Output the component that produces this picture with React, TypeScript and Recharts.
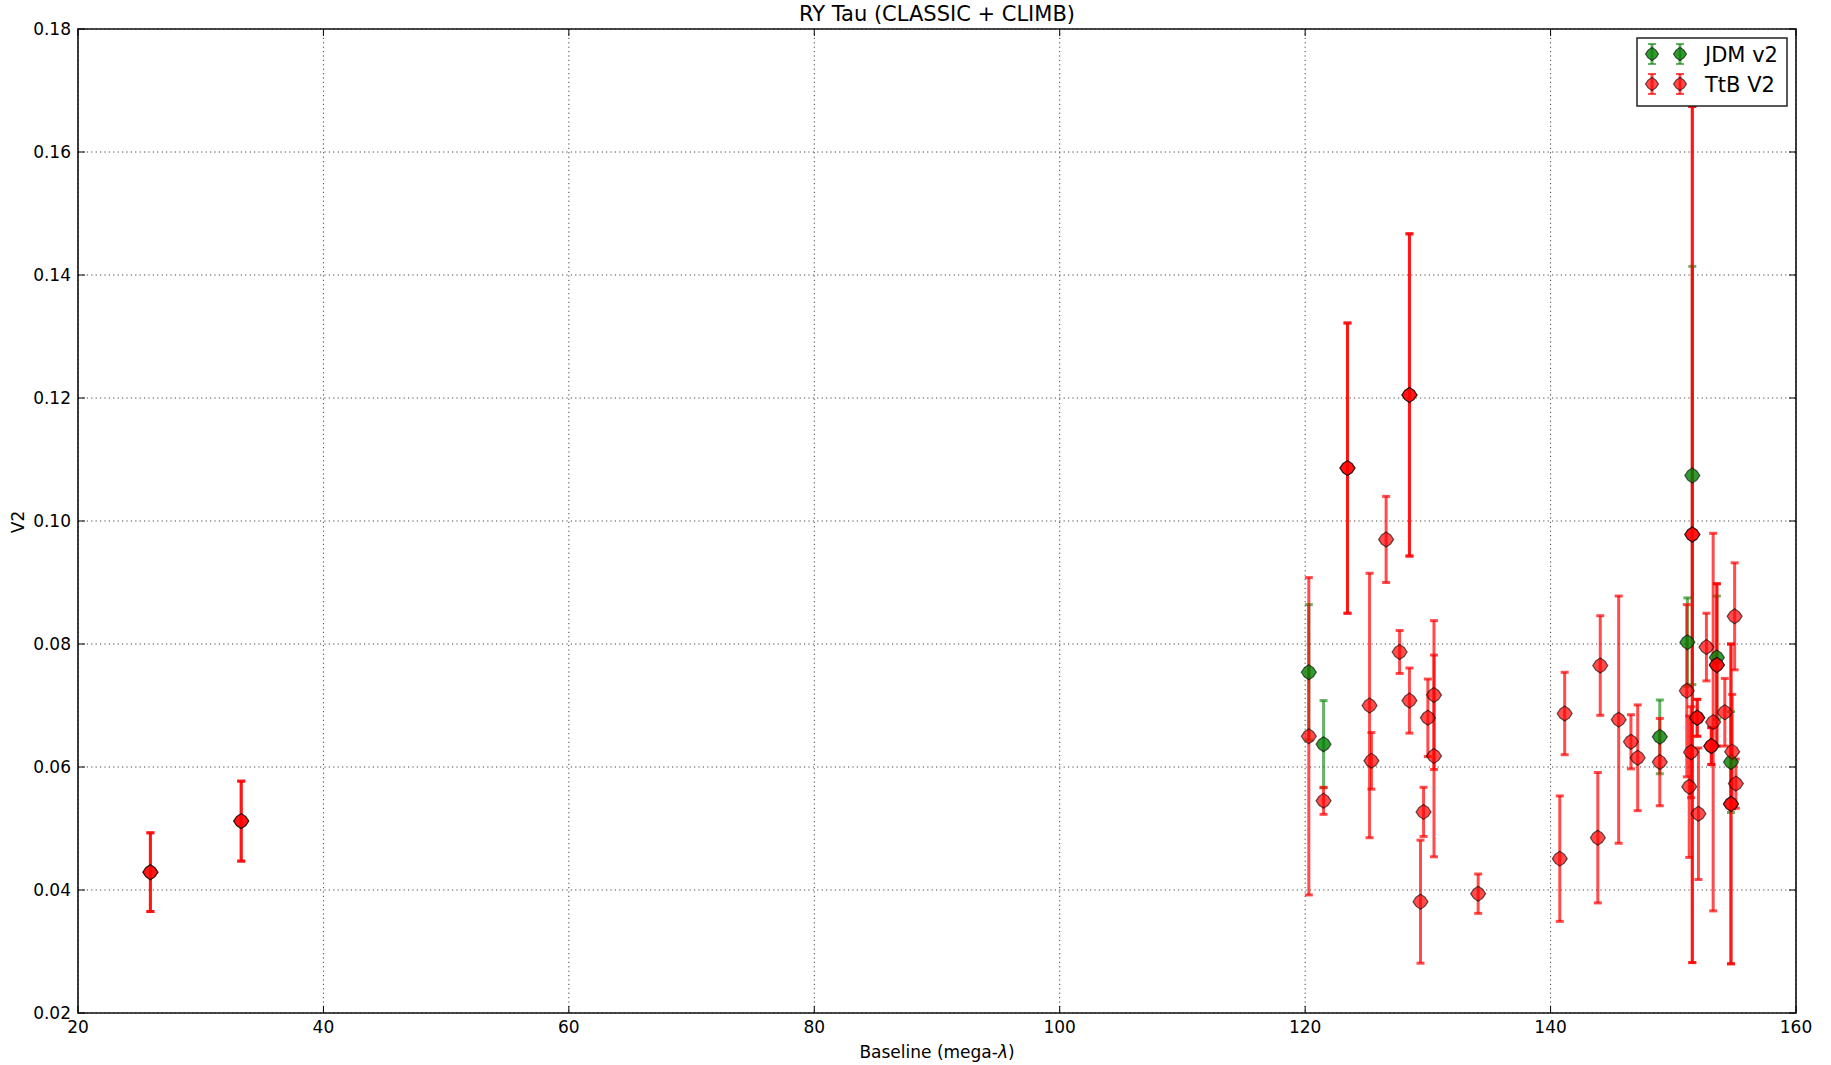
import React from 'react';
import {
  ScatterChart,
  Scatter,
  XAxis,
  YAxis,
  CartesianGrid,
  ErrorBar,
  ReferenceArea,
  Legend,
} from 'recharts';

// axis ticks
const xTicks = [20, 40, 60, 80, 100, 120, 140, 160];
const yTicks = [0.02, 0.04, 0.06, 0.08, 0.1, 0.12, 0.14, 0.16, 0.18];

// JDM v2
const jdmBaseline = [120.3, 121.5, 148.9, 151.15, 151.55, 153.55, 154.7];
const jdmV2 = [0.0754, 0.0637, 0.0649, 0.0803, 0.1074, 0.0778, 0.0608];
const jdmErr = [0.011, 0.0071, 0.006, 0.0072, 0.034, 0.01, 0.0082];

// TtB V2 (points that show up twice in the plot are listed twice)
const ttbBaseline = [
  25.9, 25.9, 33.3, 33.3, 120.3, 121.5, 123.45, 123.45, 125.25, 125.4,
  126.6, 127.7, 128.5, 128.5, 128.5, 129.4, 129.65, 130.0, 130.5, 130.5,
  134.1, 140.75, 141.15, 143.85, 144.05, 145.55, 146.55, 147.1, 148.9, 151.1,
  151.3, 151.45, 151.55, 151.55, 151.95, 151.95, 152.05, 152.7, 153.1, 153.1,
  153.25, 153.55, 153.55, 154.2, 154.7, 154.7, 154.8, 155.0, 155.1,
];
const ttbV2 = [
  0.0429, 0.0429, 0.0512, 0.0512, 0.065, 0.0545, 0.1086, 0.1086, 0.07, 0.061,
  0.097, 0.0787, 0.1205, 0.1205, 0.0708, 0.0381, 0.0527, 0.068, 0.0717, 0.0618,
  0.0394, 0.0451, 0.0687, 0.0485, 0.0765, 0.0677, 0.0641, 0.0615, 0.0608, 0.0724,
  0.0568, 0.0624, 0.0978, 0.0978, 0.068, 0.068, 0.0524, 0.0795, 0.0634, 0.0634,
  0.0673, 0.0766, 0.0766, 0.0689, 0.054, 0.054, 0.0625, 0.0845, 0.0573,
];
const ttbErr = [
  0.0064, 0.0064, 0.0065, 0.0065, 0.0258, 0.0022, 0.0236, 0.0236, 0.0215, 0.0046,
  0.007, 0.0035, 0.0262, 0.0262, 0.0053, 0.01, 0.004, 0.0063, 0.0121, 0.0164,
  0.0032, 0.0102, 0.0067, 0.0106, 0.0081, 0.0201, 0.0044, 0.0086, 0.0071, 0.014,
  0.0115, 0.0074, 0.0696, 0.0696, 0.003, 0.003, 0.0107, 0.0055, 0.003, 0.003,
  0.0307, 0.0132, 0.0132, 0.0055, 0.026, 0.026, 0.0093, 0.0087, 0.004,
];

const jdmData = jdmBaseline.map((x, i) => ({ x, y: jdmV2[i], err: jdmErr[i] }));
const ttbData = ttbBaseline.map((x, i) => ({ x, y: ttbV2[i], err: ttbErr[i] }));

const W = 1831;
const H = 1065;
const PL = 78;
const PR = 1796;
const PT = 29;
const PB = 1013;
const FONT = '"DejaVu Sans", sans-serif';

const GREEN = 'rgba(0,128,0,0.8)';
const GREEN_BAR = 'rgba(0,128,0,0.6)';
const RED = 'rgba(255,0,0,0.7)';
const RED_BAR = 'rgba(255,0,0,0.7)';

// rounded diamond, close to how the small 'D' markers render
const markerPoints = (cx: number, cy: number, r: number) => {
  const d = r * 0.6;
  return [
    [cx, cy - r],
    [cx + d, cy - d],
    [cx + r, cy],
    [cx + d, cy + d],
    [cx, cy + r],
    [cx - d, cy + d],
    [cx - r, cy],
    [cx - d, cy - d],
  ]
    .map((p) => p.join(','))
    .join(' ');
};

const diamond = (fill: string) => (props: any) => {
  const { cx, cy } = props;
  return (
    <polygon points={markerPoints(cx, cy, 7.5)} fill={fill} stroke="rgba(0,0,0,0.6)" strokeWidth={1.2} />
  );
};

const noMarker = () => <g />;

const XTick = (props: any) => {
  const { x, payload } = props;
  return (
    <g>
      <line x1={x} x2={x} y1={PB} y2={PB - 7} stroke="#000" strokeWidth={1} />
      <line x1={x} x2={x} y1={PT} y2={PT + 7} stroke="#000" strokeWidth={1} />
      <text x={x} y={PB + 20} textAnchor="middle" fontSize={17} fontFamily={FONT} fill="#000">
        {payload.value}
      </text>
    </g>
  );
};

const YTick = (props: any) => {
  const { y, payload } = props;
  return (
    <g>
      <line x1={PL} x2={PL + 7} y1={y} y2={y} stroke="#000" strokeWidth={1} />
      <line x1={PR} x2={PR - 7} y1={y} y2={y} stroke="#000" strokeWidth={1} />
      <text x={PL - 7} y={y} dy="0.36em" textAnchor="end" fontSize={17} fontFamily={FONT} fill="#000">
        {Number(payload.value).toFixed(2)}
      </text>
    </g>
  );
};

const XLabel = () => (
  <text x={(PL + PR) / 2} y={1058} textAnchor="middle" fontSize={17} fontFamily={FONT} fill="#000">
    Baseline (mega-<tspan fontStyle="italic">λ</tspan>)
  </text>
);

const YLabel = () => (
  <text
    x={18}
    y={522}
    transform="rotate(-90 18 522)"
    textAnchor="middle"
    dominantBaseline="central"
    fontSize={17}
    fontFamily={FONT}
    fill="#000"
  >
    V2
  </text>
);

const LegendMark = ({ cx, cy, fill, bar }: { cx: number; cy: number; fill: string; bar: string }) => (
  <g>
    <line x1={cx} x2={cx} y1={cy - 10} y2={cy + 10} stroke={bar} strokeWidth={3} />
    <line x1={cx - 4} x2={cx + 4} y1={cy - 10} y2={cy - 10} stroke={bar} strokeWidth={2} />
    <line x1={cx - 4} x2={cx + 4} y1={cy + 10} y2={cy + 10} stroke={bar} strokeWidth={2} />
    <polygon points={markerPoints(cx, cy, 6.5)} fill={fill} stroke="rgba(0,0,0,0.6)" strokeWidth={1.2} />
  </g>
);

const legendRows = [
  { name: 'JDM v2', fill: GREEN, bar: GREEN_BAR },
  { name: 'TtB V2', fill: RED, bar: RED_BAR },
];

const LegendBox = () => (
  <svg width={152} height={70} style={{ display: 'block' }}>
    <rect x={1} y={1} width={150} height={68} fill="#fff" stroke="#222" strokeWidth={1.5} />
    {legendRows.map((row, i) => (
      <g key={row.name}>
        <LegendMark cx={16} cy={17 + i * 30} fill={row.fill} bar={row.bar} />
        <LegendMark cx={44} cy={17 + i * 30} fill={row.fill} bar={row.bar} />
        <text x={69} y={25 + i * 30} fontSize={21} fontFamily={FONT} fill="#000">
          {row.name}
        </text>
      </g>
    ))}
  </svg>
);

export default function App() {
  return (
    <div style={{ position: 'absolute', left: 0, top: 0, width: W, height: H, background: '#fff' }}>
      <div
        style={{
          position: 'absolute',
          left: PL,
          width: PR - PL,
          top: 2,
          textAlign: 'center',
          fontFamily: FONT,
          fontSize: 21,
          lineHeight: '24px',
          color: '#000',
        }}
      >
        RY Tau (CLASSIC + CLIMB)
      </div>
      <ScatterChart width={W} height={H} margin={{ top: PT, right: W - PR, bottom: 22, left: 18 }}>
        <CartesianGrid stroke="#444" strokeDasharray="1.2 3.2" strokeWidth={1} />
        <XAxis
          type="number"
          dataKey="x"
          domain={[20, 160]}
          ticks={xTicks}
          interval={0}
          height={30}
          axisLine={false}
          tickLine={false}
          tick={<XTick />}
          label={<XLabel />}
          allowDataOverflow
        />
        <YAxis
          type="number"
          dataKey="y"
          domain={[0.02, 0.18]}
          ticks={yTicks}
          interval={0}
          width={60}
          axisLine={false}
          tickLine={false}
          tick={<YTick />}
          label={<YLabel />}
          allowDataOverflow
        />
        <Legend
          layout="vertical"
          align="center"
          verticalAlign="middle"
          width={152}
          height={70}
          wrapperStyle={{ left: 1636, top: 37, width: 152, height: 70 }}
          content={() => <LegendBox />}
        />
        <Scatter name="JDM v2" data={jdmData} shape={noMarker} legendType="none" isAnimationActive={false}>
          <ErrorBar dataKey="err" direction="y" width={4} stroke={GREEN_BAR} strokeWidth={3} isAnimationActive={false} />
        </Scatter>
        <Scatter name="TtB V2" data={ttbData} shape={noMarker} legendType="none" isAnimationActive={false}>
          <ErrorBar dataKey="err" direction="y" width={4} stroke={RED_BAR} strokeWidth={3} isAnimationActive={false} />
        </Scatter>
        <Scatter name="JDM v2 points" data={jdmData} shape={diamond(GREEN)} isAnimationActive={false} />
        <Scatter name="TtB V2 points" data={ttbData} shape={diamond(RED)} isAnimationActive={false} />
        <ReferenceArea x1={20} x2={160} y1={0.02} y2={0.18} fill="none" stroke="#111" strokeWidth={1.6} />
      </ScatterChart>
    </div>
  );
}
